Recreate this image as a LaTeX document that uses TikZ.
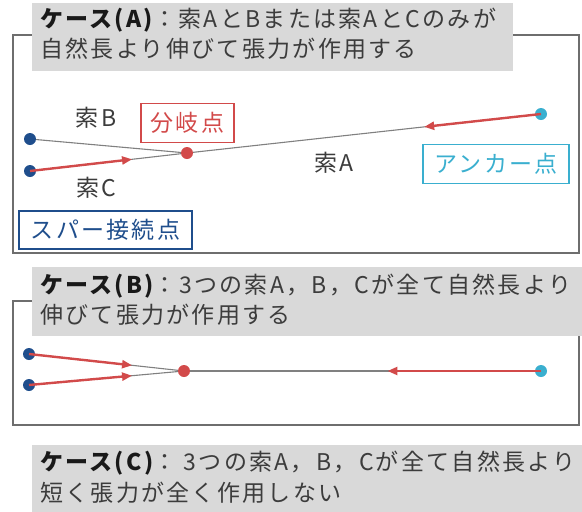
\documentclass[tikz,border=0pt]{standalone}
\usepackage{fontspec}
\setmainfont{Noto Sans CJK JP}[LetterSpace=10]
\usetikzlibrary{arrows.meta,calc}
\definecolor{frm}{HTML}{6E6E6E}
\definecolor{ttl}{HTML}{D9D9D9}
\definecolor{txt}{HTML}{3C3C3C}
\definecolor{rd}{HTML}{D24A4A}
\definecolor{bl}{HTML}{1F4E8C}
\definecolor{cy}{HTML}{3AAFCF}
\definecolor{ln}{HTML}{808080}
\tikzset{
  frame/.style={draw=frm, line width=1.4pt},
  titlebox/.style={fill=ttl, draw=none},
  tline/.style={anchor=base west, inner sep=0pt, text=txt},
  lbl/.style={text=txt, inner sep=0pt},
  dotn/.style={circle, inner sep=0pt, minimum size=12pt},
  rope/.style={draw=ln, line width=1.1pt},
  force/.style={draw=rd, line width=2.4pt, -{Triangle[length=10pt,width=8pt]}},
  tagbox/.style={draw, line width=1.4pt, inner sep=0pt, minimum height=39pt},
}
\begin{document}
\begin{tikzpicture}[x=1pt,y=-1pt,font=\fontsize{23}{27}\selectfont]
\useasboundingbox (0,0) rectangle (582,512);
% ---------- Case A ----------
\draw[frame] (13,35) rectangle (579,253);
\fill[titlebox] (32,3) rectangle (513,71);
\node[tline] (ta1) at (40,27) {\textbf{\color{black!90}ケース(A)}：索AとBまたは索AとCのみが};
\node[tline] (ta2) at (40,57) {自然長より伸びて張力が作用する};

\node[dotn, fill=bl] (ab) at (30,139) {};
\node[dotn, fill=bl] (ac) at (30,171) {};
\node[dotn, fill=rd] (ar) at (187,153) {};
\node[dotn, fill=cy] (aa) at (541,114) {};
\draw[rope] (ab) -- (ar);
\draw[rope] (ac) -- (ar);
\draw[rope] (ar) -- (aa);
\coordinate (acm) at ($(ac)!0.65!(ar)$);
\coordinate (aam) at ($(aa)!0.33!(ar)$);
\draw[force] (ac.center) -- (acm);
\draw[force] (aa.center) -- (aam);

\node[lbl] (lb) at (96,118) {索B};
\node[lbl] (lc) at (96,188) {索C};
\node[lbl] (la) at (334,163) {索A};
\node[tagbox, draw=rd, text=rd, minimum width=93pt] (bunki) at (187.5,123) {分岐点};
\node[tagbox, draw=cy, text=cy, minimum width=146pt] (anchor) at (496,164) {アンカー点};
\node[tagbox, draw=bl, text=bl, minimum width=173pt, minimum height=38pt] (spar) at (105.5,230) {スパー接続点};

% ---------- Case B ----------
\draw[frame] (13,301) rectangle (579,425);
\fill[titlebox] (32,267) rectangle (582,336);
\node[tline] (tb1) at (40,293) {\textbf{\color{black!90}ケース(B)}：3つの索A，B，Cが全て自然長より};
\node[tline] (tb2) at (40,323) {伸びて張力が作用する};

\node[dotn, fill=bl] (bb) at (29,354) {};
\node[dotn, fill=bl] (bc) at (29,385) {};
\node[dotn, fill=rd] (br) at (184,371) {};
\node[dotn, fill=cy] (ba) at (541,371) {};
\draw[rope] (bb) -- (br);
\draw[rope] (bc) -- (br);
\draw[rope] (br) -- (ba);
\coordinate (bbm) at ($(bb)!0.665!(br)$);
\coordinate (bcm) at ($(bc)!0.665!(br)$);
\coordinate (bam) at ($(ba)!0.43!(br)$);
\draw[force] (bb.center) -- (bbm);
\draw[force] (bc.center) -- (bcm);
\draw[force] (ba.center) -- (bam);

% ---------- Case C ----------
\fill[titlebox] (32,445) rectangle (582,512);
\node[tline] (tc1) at (40,470) {\textbf{\color{black!90}ケース(C)}： 3つの索A，B，Cが全て自然長より};
\node[tline] (tc2) at (40,501) {短く張力が全く作用しない};
\end{tikzpicture}
\end{document}
